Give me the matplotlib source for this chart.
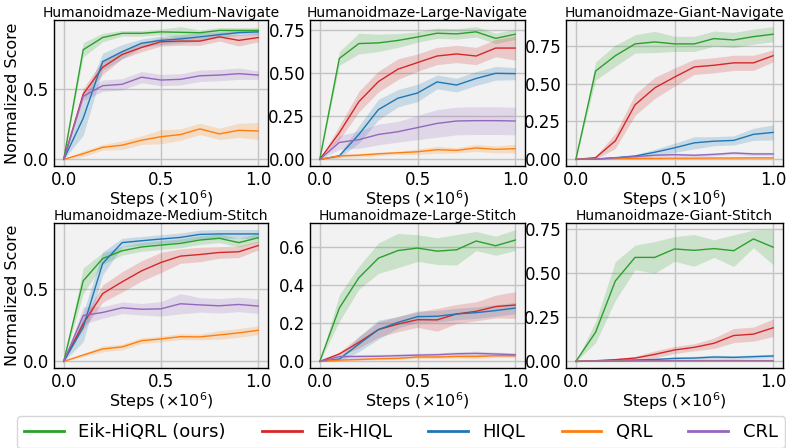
import numpy as np
import matplotlib
matplotlib.use("Agg")
import matplotlib.pyplot as plt
from matplotlib.ticker import FormatStrFormatter
from matplotlib.lines import Line2D

steps = [0.0, 0.1, 0.2, 0.3, 0.4, 0.5, 0.6, 0.7, 0.8, 0.9, 1.0]
methods = ["Eik-HiQRL (ours)", "Eik-HIQL", "HIQL", "QRL", "CRL"]
colors = ["#2ca02c", "#d62728", "#1f77b4", "#ff7f0e", "#9467bd"]
titles = ["Humanoidmaze-Medium-Navigate", "Humanoidmaze-Large-Navigate", "Humanoidmaze-Giant-Navigate",
          "Humanoidmaze-Medium-Stitch", "Humanoidmaze-Large-Stitch", "Humanoidmaze-Giant-Stitch"]
yticks = [[0.0, 0.5], [0.0, 0.25, 0.5, 0.75], [0.0, 0.25, 0.5, 0.75],
          [0.0, 0.5], [0.0, 0.2, 0.4, 0.6], [0.0, 0.25, 0.5, 0.75]]
yfmt = ["%.1f", "%.2f", "%.2f", "%.1f", "%.1f", "%.2f"]

# ---- Medium-Navigate ----
mn_mean = {
    "Eik-HiQRL (ours)": [0, .774, .86, .89, .89, .90, .897, .894, .91, .91, .91],
    "Eik-HIQL": [0, .46, .65, .74, .79, .83, .835, .835, .865, .84, .86],
    "HIQL": [0, .29, .69, .76, .82, .84, .85, .865, .88, .895, .90],
    "QRL": [0, .04, .085, .10, .135, .16, .175, .215, .18, .205, .20],
    "CRL": [0, .445, .52, .53, .58, .56, .565, .59, .595, .605, .595],
}
mn_std = {
    "Eik-HiQRL (ours)": [0, .05, .03, .02, .02, .02, .04, .02, .02, .02, .02],
    "Eik-HIQL": [0, .04, .05, .03, .03, .03, .03, .03, .03, .04, .03],
    "HIQL": [0, .12, .06, .05, .03, .03, .03, .03, .02, .02, .02],
    "QRL": [0, .02, .02, .03, .03, .05, .04, .04, .04, .05, .06],
    "CRL": [0, .03, .04, .04, .04, .04, .04, .04, .04, .04, .03],
}
# ---- Large-Navigate ----
ln_mean = {
    "Eik-HiQRL (ours)": [0, .584, .67, .674, .688, .708, .73, .726, .738, .70, .724],
    "Eik-HIQL": [0, .154, .334, .45, .522, .56, .598, .61, .598, .644, .644],
    "HIQL": [0, .02, .144, .288, .354, .384, .448, .43, .468, .498, .496],
    "QRL": [0, .02, .024, .032, .038, .044, .056, .052, .066, .058, .062],
    "CRL": [0, .098, .114, .144, .16, .184, .208, .222, .224, .224, .222],
}
ln_std = {
    "Eik-HiQRL (ours)": [0, .04, .06, .05, .04, .03, .03, .03, .03, .03, .03],
    "Eik-HIQL": [0, .04, .06, .06, .06, .05, .05, .05, .05, .05, .07],
    "HIQL": [0, .01, .05, .06, .05, .05, .04, .04, .04, .04, .035],
    "QRL": [0, .01, .01, .01, .01, .015, .02, .015, .02, .02, .025],
    "CRL": [0, .04, .05, .06, .06, .07, .08, .08, .08, .08, .08],
}
# ---- Giant-Navigate ----
gn_mean = {
    "Eik-HiQRL (ours)": [0, .583, .684, .762, .775, .762, .762, .797, .788, .81, .826],
    "Eik-HIQL": [0, .011, .122, .36, .472, .543, .61, .621, .637, .637, .684],
    "HIQL": [0, .002, .011, .022, .047, .076, .109, .12, .125, .165, .178],
    "QRL": [0, .003, .005, .006, .007, .008, .008, .009, .009, .01, .01],
    "CRL": [0, .002, .01, .018, .027, .031, .027, .033, .042, .036, .036],
}
gn_std = {
    "Eik-HiQRL (ours)": [0, .06, .07, .06, .07, .05, .05, .05, .05, .05, .05],
    "Eik-HIQL": [0, .01, .05, .07, .07, .06, .05, .05, .05, .05, .04],
    "HIQL": [0, .002, .005, .01, .02, .03, .04, .03, .03, .04, .05],
    "QRL": [0, .002, .003, .003, .003, .003, .003, .003, .003, .003, .003],
    "CRL": [0, .002, .005, .01, .01, .01, .01, .01, .01, .01, .01],
}
# ---- Medium-Stitch ----
ms_mean = {
    "Eik-HiQRL (ours)": [0, .556, .71, .764, .79, .803, .815, .838, .85, .82, .854],
    "Eik-HIQL": [0, .26, .468, .549, .625, .683, .727, .738, .752, .757, .80],
    "HIQL": [0, .236, .676, .82, .833, .845, .856, .877, .88, .88, .88],
    "QRL": [0, .044, .086, .10, .143, .155, .171, .169, .183, .197, .215],
    "CRL": [0, .317, .338, .37, .36, .363, .398, .39, .384, .393, .382],
}
ms_std = {
    "Eik-HiQRL (ours)": [0, .09, .04, .03, .03, .03, .03, .03, .03, .03, .03],
    "Eik-HIQL": [0, .04, .06, .07, .07, .07, .05, .05, .04, .04, .03],
    "HIQL": [0, .10, .08, .03, .03, .03, .03, .03, .03, .03, .03],
    "QRL": [0, .01, .02, .02, .02, .02, .02, .02, .03, .03, .03],
    "CRL": [0, .06, .04, .04, .04, .05, .07, .05, .05, .05, .05],
}
# ---- Large-Stitch ----
ls_mean = {
    "Eik-HiQRL (ours)": [0, .28, .439, .542, .582, .595, .579, .586, .632, .607, .637],
    "Eik-HIQL": [0, .039, .10, .167, .196, .219, .218, .249, .263, .288, .296],
    "HIQL": [0, .012, .091, .167, .205, .235, .237, .249, .256, .267, .28],
    "QRL": [0, .007, .01, .014, .016, .023, .023, .026, .026, .03, .03],
    "CRL": [0, .025, .026, .027, .03, .033, .035, .04, .042, .039, .035],
}
ls_std = {
    "Eik-HiQRL (ours)": [0, .07, .06, .08, .09, .07, .07, .08, .05, .05, .055],
    "Eik-HIQL": [0, .01, .03, .04, .04, .04, .06, .05, .05, .06, .07],
    "HIQL": [0, .01, .04, .05, .03, .03, .03, .03, .03, .03, .03],
    "QRL": [0, .005, .005, .005, .005, .008, .008, .008, .01, .01, .01],
    "CRL": [0, .01, .01, .01, .01, .01, .01, .01, .012, .01, .01],
}
# ---- Giant-Stitch ----
gs_mean = {
    "Eik-HiQRL (ours)": [0, .166, .457, .591, .591, .639, .631, .641, .629, .696, .649],
    "Eik-HIQL": [0, .004, .01, .019, .04, .065, .08, .103, .147, .155, .191],
    "HIQL": [0, .002, .006, .008, .011, .017, .019, .025, .023, .027, .031],
    "QRL": [0, .002, .003, .003, .004, .004, .004, .005, .005, .005, .005],
    "CRL": [0, .002, .002, .003, .003, .003, .003, .003, .003, .003, .003],
}
gs_std = {
    "Eik-HiQRL (ours)": [0, .06, .11, .07, .09, .07, .09, .05, .09, .05, .10],
    "Eik-HIQL": [0, .002, .005, .01, .02, .02, .02, .03, .04, .04, .05],
    "HIQL": [0, .002, .003, .005, .005, .01, .01, .01, .01, .01, .01],
    "QRL": [0, .001, .001, .001, .001, .001, .001, .001, .001, .001, .001],
    "CRL": [0, .001, .001, .001, .001, .001, .001, .001, .001, .001, .001],
}

means = [mn_mean, ln_mean, gn_mean, ms_mean, ls_mean, gs_mean]
stds = [mn_std, ln_std, gn_std, ms_std, ls_std, gs_std]

fig = plt.figure(figsize=(7.86, 4.48), dpi=100)
W, H = 786, 448
cols = [(54, 268), (310, 525), (566, 783)]
rows = [(20, 166), (223, 368)]

for i in range(6):
    r, c = divmod(i, 3)
    x0, x1 = cols[c]
    y0, y1 = rows[r]
    ax = fig.add_axes([x0 / W, 1 - y1 / H, (x1 - x0) / W, (y1 - y0) / H])
    ax.set_facecolor("#f2f2f2")
    x = np.array(steps)
    for m, col in zip(methods, colors):
        mu = np.array(means[i][m])
        sd = np.array(stds[i][m])
        ax.fill_between(x, mu - sd, mu + sd, color=col, alpha=0.2, linewidth=0)
        ax.plot(x, mu, color=col, lw=1.0)
    ax.set_xticks([0.0, 0.5, 1.0])
    ax.set_yticks(yticks[i])
    ax.yaxis.set_major_formatter(FormatStrFormatter(yfmt[i]))
    ax.xaxis.set_major_formatter(FormatStrFormatter("%.1f"))
    ax.grid(True, color="#c4c4c4", lw=1.0)
    ax.set_axisbelow(True)
    ax.tick_params(length=0, pad=3.5, labelsize=12)
    for s in ax.spines.values():
        s.set_color("black")
        s.set_linewidth(1.0)
    ax.set_title(titles[i], fontsize=10, pad=2.5)
    ax.set_xlabel(r"Steps ($\times 10^6$)", fontsize=11.5, labelpad=-0.5)
    if c == 0:
        ax.set_ylabel("Normalized Score", fontsize=11.5, labelpad=2)

leg_handles = [Line2D([], [], color=col, lw=2) for col in colors]
fig.legend(leg_handles, methods, loc="upper left", bbox_to_anchor=(17 / W, 1 - 416 / H),
           ncol=5, fontsize=13, handlelength=2.2, handletextpad=0.8, columnspacing=2.0,
           borderaxespad=0, frameon=True, fancybox=True, edgecolor="#cccccc")

fig.savefig("out.png", dpi=100)
